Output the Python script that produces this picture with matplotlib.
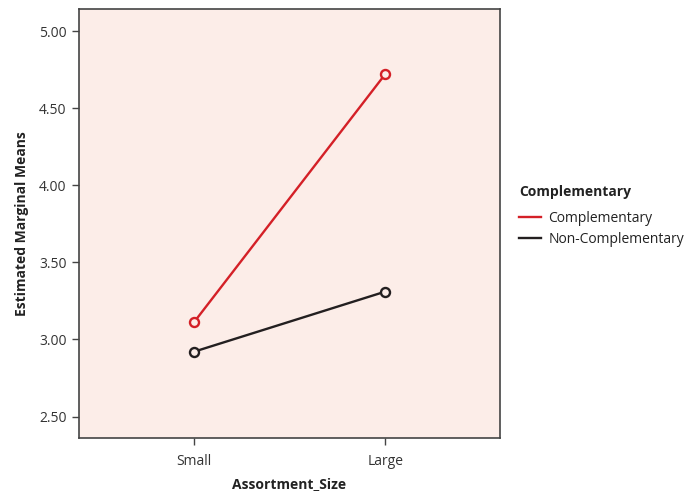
import matplotlib
matplotlib.use("Agg")
import matplotlib.pyplot as plt
from matplotlib.lines import Line2D

plt.rcParams['font.family'] = ['Open Sans', 'DejaVu Sans']

categories = ["Small", "Large"]
complementary = [3.11, 4.72]
non_complementary = [2.92, 3.31]
yticks = [2.50, 3.00, 3.50, 4.00, 4.50, 5.00]
series_names = ["Complementary", "Non-Complementary"]
legend_title = "Complementary"
colors = ["#D42027", "#231F20"]

fig = plt.figure(figsize=(6.85, 4.92), dpi=100)
ax = fig.add_axes([79/685, 1-437.5/492, 421/685, (437.5-9)/492])
ax.set_facecolor("#FCEDE8")

x = list(range(len(categories)))
for vals, c, name in zip([complementary, non_complementary], colors, series_names):
    ax.plot(x, vals, color=c, lw=1.7, marker='o', ms=6.5, mfc='#FCEDE8',
            mec=c, mew=1.7, label=name, zorder=3)

ax.set_xlim(-0.6, 1.6)
ax.set_ylim(2.364, 5.143)
ax.set_xticks(x)
ax.set_xticklabels(categories)
ax.set_yticks(yticks)
ax.set_yticklabels([f"{v:.2f}" for v in yticks])
ax.tick_params(axis='both', labelsize=10, colors='#444444', labelcolor='#333333',
               length=5, width=1)
ax.tick_params(axis='x', pad=7)
ax.tick_params(axis='y', pad=4)
for s in ax.spines.values():
    s.set_color('#444444')
    s.set_linewidth(1.2)

ax.set_xlabel("Assortment_Size", fontsize=10, fontweight='bold', color='#222222', labelpad=6)
ax.set_ylabel("Estimated Marginal Means", fontsize=10, fontweight='bold', color='#222222', labelpad=7)

fig.text(519/685, 1-192/492, legend_title, fontsize=10, fontweight='bold',
         color='#222222', ha='left', va='center')
handles = [Line2D([0], [0], color=c, lw=1.7) for c in colors]
leg = fig.legend(handles, series_names, loc='upper left',
                 bbox_to_anchor=(519/685, 1-211/492), frameon=False, fontsize=10,
                 handlelength=1.6, handletextpad=0.5, labelspacing=0.42,
                 borderpad=0, borderaxespad=0)
for t in leg.get_texts():
    t.set_color('#222222')

fig.savefig("out.png", dpi=100, facecolor='white')
